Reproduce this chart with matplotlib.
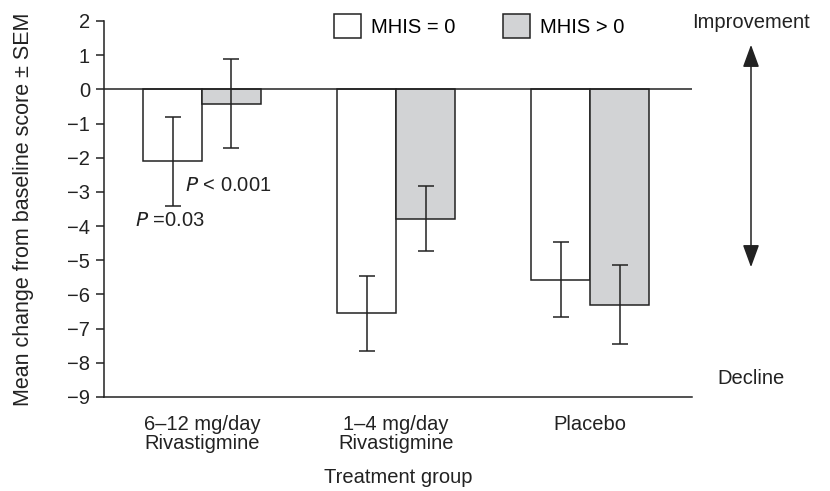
import numpy as np
import matplotlib
matplotlib.use("Agg")
import matplotlib.pyplot as plt
from matplotlib.patches import Patch, FancyArrowPatch

plt.rcParams["font.family"] = ["Liberation Sans", "DejaVu Sans"]
plt.rcParams["axes.unicode_minus"] = True

groups = ["6\u201312 mg/day\nRivastigmine", "1\u20134 mg/day\nRivastigmine", "Placebo"]
mhis0_mean = [-2.1, -6.55, -5.57]
mhis0_sem = [1.3, 1.1, 1.1]
mhis1_mean = [-0.42, -3.78, -6.3]
mhis1_sem = [1.3, 0.95, 1.16]
series_labels = ["MHIS = 0", "MHIS > 0"]

FS = 14.5
INK = "#222222"
W, H = 830, 491
fig = plt.figure(figsize=(W / 100, H / 100), dpi=100)
ax = fig.add_axes([104 / W, 1 - 397 / H, (692 - 104) / W, (397 - 21) / H])

x = np.arange(len(groups))
bw = 0.304
err_kw = dict(ecolor=INK, elinewidth=1.1, capsize=6, capthick=1.1)
ax.bar(x - bw / 2, mhis0_mean, bw, color="white", edgecolor=INK, linewidth=1.1,
       yerr=mhis0_sem, error_kw=err_kw, zorder=2)
ax.bar(x + bw / 2, mhis1_mean, bw, color="#d2d3d5", edgecolor=INK, linewidth=1.1,
       yerr=mhis1_sem, error_kw=err_kw, zorder=2)

ax.axhline(0, color=INK, linewidth=1.1, zorder=3)
ax.set_xlim(-0.505, 2.525)
ax.set_ylim(-9, 2)
ax.set_yticks(np.arange(-9, 3, 1))
ax.set_yticklabels([str(v).replace("-", "\u2212") for v in range(-9, 3)])
ax.set_xticks(x)
ax.set_xticklabels(groups, linespacing=1.0)
ax.tick_params(axis="x", length=0, pad=13, labelsize=FS, colors=INK)
ax.tick_params(axis="y", length=6, width=1.1, pad=4, labelsize=FS, colors=INK)
for s in ["top", "right"]:
    ax.spines[s].set_visible(False)
for s in ["left", "bottom"]:
    ax.spines[s].set_linewidth(1.1)
    ax.spines[s].set_color(INK)

ax.set_xlabel("Treatment group", fontsize=FS, labelpad=11, color=INK)
ax.set_ylabel("Mean change from baseline score \u00b1 SEM", fontsize=15.5, labelpad=24,
              color=INK)

ax.text(x[0] - 0.09, -2.8, "$\\it{P}$ < 0.001", fontsize=FS, ha="left", va="center",
        color=INK)
ax.text(x[0] - 0.345, -3.85, "$\\it{P}$ =0.03", fontsize=FS, ha="left", va="center",
        color=INK)

handles = [Patch(facecolor="white", edgecolor=INK, linewidth=1.1),
           Patch(facecolor="#d2d3d5", edgecolor=INK, linewidth=1.1)]
fig.legend(handles, series_labels, loc="center left", bbox_to_anchor=(316 / W, 1 - 26 / H),
           ncol=2, frameon=False, fontsize=FS, handlelength=1.35, handleheight=1.4,
           columnspacing=2.35, handletextpad=0.5)

# improvement / decline arrow
ax_x = 751 / W
fig.text(ax_x, 1 - 22 / H, "Improvement", ha="center", va="center", fontsize=FS, color=INK)
fig.text(ax_x, 1 - 379 / H, "Decline", ha="center", va="center", fontsize=FS, color=INK)
fig.add_artist(FancyArrowPatch(
    (ax_x, 1 - 42 / H), (ax_x, 1 - 270 / H), transform=fig.transFigure,
    arrowstyle="<|-|>,head_length=1.15,head_width=0.42", color=INK,
    linewidth=1.1, mutation_scale=12))

fig.savefig("out.png", dpi=100)
